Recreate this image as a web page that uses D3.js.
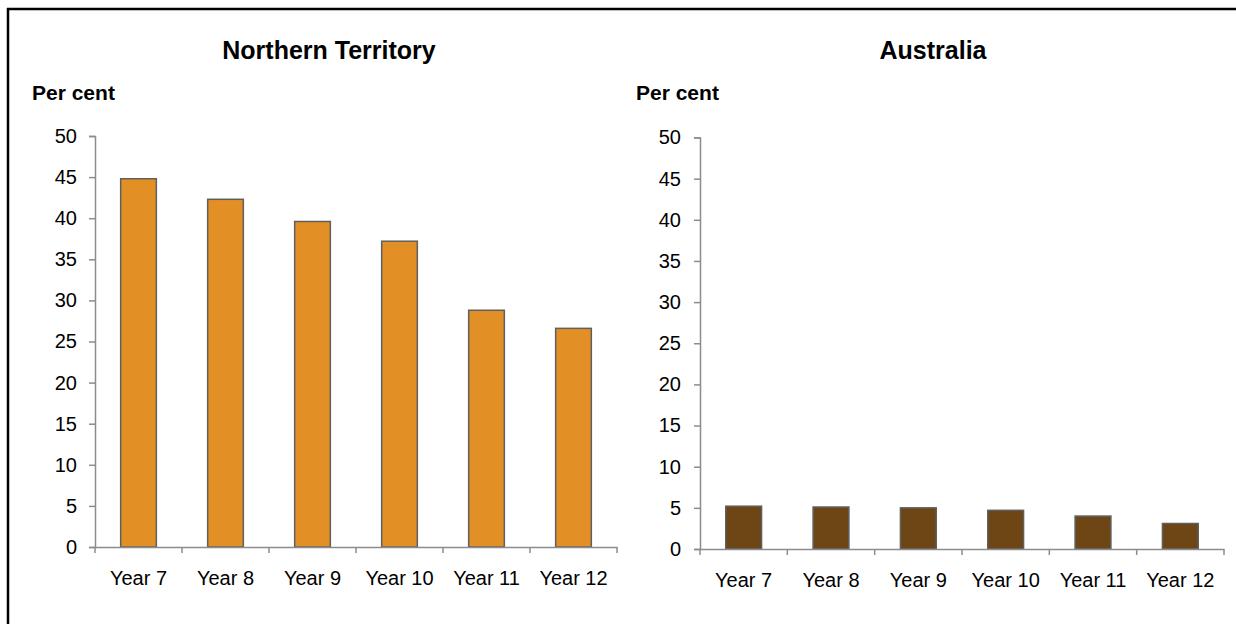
<!DOCTYPE html>
<html><head><meta charset="utf-8">
<script src="https://cdn.jsdelivr.net/npm/d3@7"></script>
<style>body{margin:0;background:#fff}svg{display:block}text{font-family:"Liberation Sans",Arial,sans-serif;fill:#000}</style>
</head><body>
<svg id="c" width="1236" height="624"></svg>
<script>
const categories = ["Year 7","Year 8","Year 9","Year 10","Year 11","Year 12"];
const ntValues = [44.8, 42.3, 39.6, 37.2, 28.8, 26.6];
const ausValues = [5.2, 5.1, 5.0, 4.7, 4.0, 3.1];
const yTicks = [0,5,10,15,20,25,30,35,40,45,50];
const titles = ["Northern Territory","Australia"];
const yLabel = "Per cent";

const svg = d3.select("#c");
svg.append("line").attr("x1",7).attr("x2",1236).attr("y1",9).attr("y2",9).attr("stroke","#000").attr("stroke-width",2.5);
svg.append("line").attr("x1",8).attr("x2",8).attr("y1",8).attr("y2",624).attr("stroke","#000").attr("stroke-width",2.5);

const panels = [
  {values: ntValues, color:"#E28F26", x0:95, x1:617, y0:547, y1:136, titleX:329, labelX:32, title:titles[0], pad:12},
  {values: ausValues, color:"#6E4514", x0:700, x1:1224, y0:549, y1:137.5, titleX:933, labelX:636, title:titles[1], pad:13}
];

panels.forEach(p=>{
  const g = svg.append("g");
  const x = d3.scaleBand().domain(categories).range([p.x0,p.x1]).paddingInner(0.59).paddingOuter(0.295);
  const xb = d3.scaleBand().domain(categories).range([p.x0,p.x1]);
  const y = d3.scaleLinear().domain([0,50]).range([p.y0,p.y1]);

  g.append("text").attr("x",p.titleX).attr("y",59).attr("text-anchor","middle")
    .attr("font-weight","bold").attr("font-size",25).text(p.title);
  g.append("text").attr("x",p.labelX).attr("y",100)
    .attr("font-weight","bold").attr("font-size",21).text(yLabel);

  g.selectAll("rect.bar").data(p.values).join("rect").attr("class","bar")
    .attr("x",(d,i)=>x(categories[i])).attr("width",x.bandwidth())
    .attr("y",d=>y(d)).attr("height",d=>y(0)-y(d))
    .attr("fill",p.color).attr("stroke","#5f5f5f").attr("stroke-width",1.5);

  const ya = g.append("g").attr("transform",`translate(${p.x0},0)`)
    .call(d3.axisLeft(y).tickValues(yTicks).tickSize(6).tickPadding(p.pad));
  ya.select(".domain").attr("stroke","#8c8c8c").attr("stroke-width",1.5);
  ya.selectAll(".tick line").attr("stroke","#8c8c8c").attr("stroke-width",1.5);
  ya.selectAll(".tick text").attr("font-size",20).attr("font-family","Liberation Sans, Arial, sans-serif").attr("fill","#000");

  const xa = g.append("g").attr("transform",`translate(0,${p.y0})`)
    .call(d3.axisBottom(xb).tickSize(0).tickPadding(24).tickSizeOuter(0));
  xa.select(".domain").attr("stroke","#8c8c8c").attr("stroke-width",1.5);
  xa.selectAll(".tick text").attr("font-size",20).attr("font-family","Liberation Sans, Arial, sans-serif").attr("fill","#000");
  const bounds = categories.map(c=>xb(c)).concat([p.x1]);
  g.selectAll("line.bt").data(bounds).join("line").attr("class","bt")
    .attr("x1",d=>d).attr("x2",d=>d).attr("y1",p.y0).attr("y2",p.y0+6)
    .attr("stroke","#8c8c8c").attr("stroke-width",1.5);
});
</script>
</body></html>
